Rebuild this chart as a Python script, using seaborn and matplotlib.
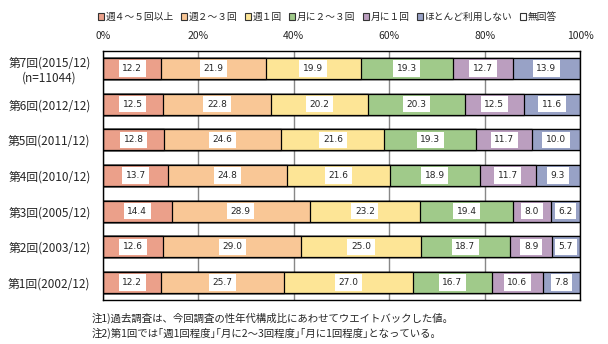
import matplotlib
matplotlib.use("Agg")
import matplotlib.pyplot as plt
from matplotlib.patches import Patch
import seaborn as sns
import pandas as pd
import numpy as np

sns.set_style("white")
plt.rcParams['font.family'] = ['Noto Sans CJK JP', 'DejaVu Sans']

rounds = ["第7回(2015/12)\n(n=11044)", "第6回(2012/12)", "第5回(2011/12)", "第4回(2010/12)",
          "第3回(2005/12)", "第2回(2003/12)", "第1回(2002/12)"]
categories = ["週４～５回以上", "週２～３回", "週１回", "月に２～３回", "月に１回", "ほとんど利用しない", "無回答"]
v_week4_5 = [12.2, 12.5, 12.8, 13.7, 14.4, 12.6, 12.2]
v_week2_3 = [21.9, 22.8, 24.6, 24.8, 28.9, 29.0, 25.7]
v_week1 = [19.9, 20.2, 21.6, 21.6, 23.2, 25.0, 27.0]
v_month2_3 = [19.3, 20.3, 19.3, 18.9, 19.4, 18.7, 16.7]
v_month1 = [12.7, 12.5, 11.7, 11.7, 8.0, 8.9, 10.6]
v_rarely = [13.9, 11.6, 10.0, 9.3, 6.2, 5.7, 7.8]
v_noanswer = [0.1, 0.1, 0.0, 0.0, 0.0, 0.1, 0.0]
x_ticks = [0, 20, 40, 60, 80, 100]
x_ticklabels = ["0%", "20%", "40%", "60%", "80%", "100%"]
notes = ["注1)過去調査は、今回調査の性年代構成比にあわせてウエイトバックした値。",
         "注2)第1回では｢週1回程度｣｢月に2～3回程度｣｢月に1回程度｣となっている。"]

colors = ["#EBA08A", "#F9C796", "#FDE596", "#A0CA8A", "#BB9EBF", "#98A2C6", "#FFFFFF"]

series = [v_week4_5, v_week2_3, v_week1, v_month2_3, v_month1, v_rarely, v_noanswer]
vals = np.array(series)  # shape (7 cats, 7 rounds)
cum = np.cumsum(vals, axis=0)
cum[-1] = np.maximum(cum[-1], 100.0)

df = pd.DataFrame({"round": rounds})
for k in range(len(categories)):
    df[f"c{k}"] = cum[k]

fig = plt.figure(figsize=(6.08, 3.44), dpi=100)
ax = fig.add_axes([103/608, 1-300/344, (580-103)/608, (300-51)/344])

for k in range(len(categories) - 1, -1, -1):
    sns.barplot(data=df, x=f"c{k}", y="round", order=rounds, color=colors[k],
                saturation=1, edgecolor="black", linewidth=0.9, width=0.59,
                errorbar=None, orient="h", ax=ax, zorder=2)

for i in range(len(rounds)):
    start = 0.0
    for k in range(len(categories) - 1):
        v = vals[k, i]
        ax.text(start + v / 2, i, f"{v:.1f}", ha="center", va="center", fontsize=6.5,
                family="DejaVu Sans", zorder=5,
                bbox=dict(boxstyle="square,pad=0.4", fc="white", ec="none"))
        start += v

ax.set_xlim(0, 100)
ax.set_ylim(6.49, -0.49)
ax.set_xticks(x_ticks)
ax.set_xticklabels(x_ticklabels, fontsize=7.5)
ax.xaxis.tick_top()
ax.tick_params(axis="x", length=0, pad=7)
ax.tick_params(axis="y", length=0, pad=9, labelsize=8.5)
for lab in ax.get_yticklabels():
    lab.set_multialignment("center")
ax.set_xlabel("")
ax.set_ylabel("")
ax.set_axisbelow(True)
ax.grid(axis="x", color="#888888", linewidth=1.0, zorder=0)
ax.grid(axis="y", visible=False)
for s in ax.spines.values():
    s.set_color("black")
    s.set_linewidth(1.0)
    s.set_visible(True)

handles = [Patch(facecolor=c, edgecolor="#333333", linewidth=0.8) for c in colors]
fig.legend(handles, categories, loc="center left", bbox_to_anchor=(98/608, 1-17/344),
           ncol=7, frameon=False, fontsize=7, handlelength=0.6, handleheight=0.6,
           handletextpad=0.15, columnspacing=0.8, borderaxespad=0, borderpad=0)

fig.text(92/608, 1-318/344, notes[0], fontsize=7.5, va="center", ha="left")
fig.text(92/608, 1-333/344, notes[1], fontsize=7.5, va="center", ha="left")

fig.savefig("out.png", dpi=100)
